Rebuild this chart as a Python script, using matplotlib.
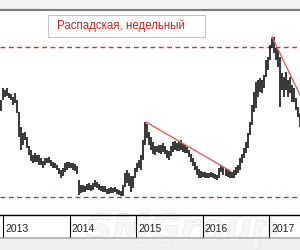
import matplotlib
matplotlib.use("Agg")
import matplotlib.pyplot as plt
import matplotlib.patheffects as pe
from matplotlib.patches import Rectangle
from matplotlib.transforms import ScaledTranslation
import pandas as pd

# ---- data (bars, price units arbitrary) ----
bar_start = "2012-12-21"
bar_step = "11D"
highs = [115, 127, 125, 127, 122, 121, 118, 122, 115, 103,
         88, 82, 83, 78, 69, 65, 60, 62, 60, 60,
         57, 54, 57, 57, 58, 55, 53, 52, 50, 47,
         45, 47, 52, 53, 53, 52, 52, 51, 49, 35,
         30, 30, 29, 31, 32, 30, 32, 35, 33, 31,
         29, 29, 29, 26, 27, 28, 27, 28, 26, 25,
         24, 30, 42, 45, 42, 39, 39, 47, 52, 55,
         60, 75, 93, 91, 83, 78, 73, 69, 69, 70,
         70, 72, 69, 65, 64, 69, 73, 74, 72, 74,
         75, 71, 70, 68, 65, 61, 57, 53, 49, 46,
         44, 43, 43, 42, 42, 43, 42, 41, 40, 47,
         50, 48, 47, 46, 44, 43, 45, 48, 50, 57,
         61, 67, 73, 82, 93, 110, 123, 133, 135, 137,
         135, 140, 155, 158, 170, 177, 178, 167, 165, 158,
         142, 138, 143, 135, 138, 130, 127, 117, 108, 102]
lows = [104, 115, 118, 119, 117, 115, 110, 112, 102, 78,
        65, 70, 75, 67, 60, 54, 52, 53, 53, 50,
        50, 47, 50, 52, 52, 49, 47, 47, 45, 41,
        37, 39, 43, 45, 47, 47, 45, 44, 41, 20,
        22, 23, 23, 25, 25, 24, 25, 28, 27, 25,
        24, 23, 23, 21, 21, 22, 22, 23, 21, 20,
        19, 19, 28, 32, 29, 23, 27, 37, 43, 47,
        45, 55, 70, 77, 70, 65, 61, 60, 63, 62,
        61, 63, 61, 57, 55, 59, 63, 65, 64, 64,
        65, 63, 62, 62, 58, 53, 49, 45, 40, 37,
        37, 38, 37, 37, 37, 38, 37, 36, 35, 37,
        43, 40, 39, 38, 37, 37, 37, 40, 42, 45,
        52, 57, 62, 67, 80, 90, 103, 107, 118, 123,
        122, 127, 138, 145, 155, 167, 162, 155, 148, 108,
        125, 118, 125, 118, 122, 113, 113, 105, 98, 88]
trend1_dates = ["2015-02-25", "2016-06-01"]
trend1_prices = [93, 44]
trend2_dates = ["2017-01-17", "2017-06-19"]
trend2_prices = [178, 120]
level_high = 168
level_low = 18
year_ticks = ["2013-01-01", "2014-01-01", "2015-01-01", "2016-01-01", "2017-01-01"]
year_labels = ["2013", "2014", "2015", "2016", "2017"]
title_text = "Распадская, недельный"
watermark = "SMGroup"

dates = pd.date_range(bar_start, periods=len(highs), freq=bar_step)

fig = plt.figure(figsize=(3, 2.5), dpi=100)
fig.patch.set_facecolor("white")

# background bands
bg = fig.add_axes([0, 0, 1, 1], zorder=0)
bg.set_xlim(0, 300)
bg.set_ylim(250, 0)
bg.axis("off")
bg.add_patch(Rectangle((0, 0), 300, 10, facecolor="#f3f3f3", edgecolor="none"))
bg.plot([0, 300], [10, 10], color="#7a7a7a", lw=1.5)
bg.add_patch(Rectangle((0, 237), 300, 13, facecolor="#f0f0f0", edgecolor="none"))
bg.plot([0, 300], [237.5, 237.5], color="#b0b0b0", lw=1.2)
bg.text(182, 231, watermark, fontsize=27, fontweight="bold", style="italic",
        color="#f6f6f6", ha="center", va="center", zorder=1,
        path_effects=[pe.withStroke(linewidth=1.0, foreground="#e8e8e8")])

# main axes
ax = fig.add_axes([0, 35 / 250, 1, 205 / 250], zorder=2)
ax.patch.set_alpha(0)
ax.set_ylim(0, 205)
ax.set_xlim(pd.Timestamp("2012-12-15"), pd.Timestamp("2017-06-19"))

ax.vlines(dates, lows, highs, color="black", lw=1.1, zorder=3)
ax.axhline(level_high, color="#cc3333", lw=1.0, ls=(0, (3.5, 2.5)), zorder=2)
ax.axhline(level_low, color="#cc3333", lw=1.0, ls=(0, (3.5, 2.5)), zorder=2)
ax.plot(pd.to_datetime(trend1_dates), trend1_prices, color="#e06060", lw=1.0, zorder=4)
ax.plot(pd.to_datetime(trend2_dates), trend2_prices, color="#e06060", lw=1.0, zorder=4)

for s in ["top", "left", "right"]:
    ax.spines[s].set_visible(False)
ax.spines["bottom"].set_color("black")
ax.spines["bottom"].set_linewidth(1.0)
ax.set_yticks([])

ax.set_xticks(pd.to_datetime(year_ticks))
ax.set_xticklabels(year_labels, fontsize=7.5, family="Liberation Sans", color="#222222")
ax.tick_params(axis="x", direction="out", length=15.5, width=0.8, color="black", pad=-9.0)
off = ScaledTranslation(2 / 100, 0, fig.dpi_scale_trans)
for lab in ax.get_xticklabels():
    lab.set_ha("left")
    lab.set_transform(lab.get_transform() + off)

# legend-like title box
ax.add_patch(Rectangle((48 / 300, (215 - 37) / 205), 157 / 300, 22 / 205,
                       transform=ax.transAxes, facecolor="white",
                       edgecolor="#c4c4c4", lw=0.8, zorder=5))
ax.text(57 / 300, (215 - 26) / 205, title_text, transform=ax.transAxes,
        fontsize=8.3, family="Liberation Sans", color="#cc2222",
        ha="left", va="center", zorder=6)

fig.savefig("out.png", dpi=100)
